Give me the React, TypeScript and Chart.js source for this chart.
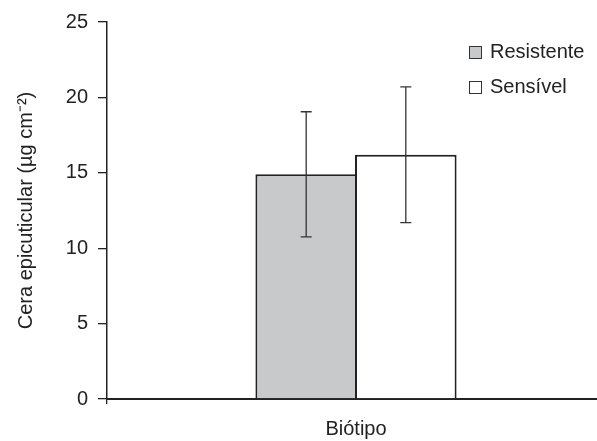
import React, { useEffect, useRef } from "react";
import { Chart, registerables } from "chart.js";

Chart.register(...registerables);

const categories = ["Biótipo"];
const seriesNames = ["Resistente", "Sensível"];
const resistenteValues = [14.9];
const sensivelValues = [16.2];
const resistenteErrors = [4.15];
const sensivelErrors = [4.5];
const yTickValues = [0, 5, 10, 15, 20, 25];
const seriesFill = ["#c8c9cb", "#ffffff"];

const FONT = "'Liberation Sans', Arial, Helvetica, sans-serif";
const INK = "#222222";

const errorBarPlugin = {
  id: "errorBars",
  afterDatasetsDraw(chart: any) {
    const ctx = chart.ctx;
    const yScale = chart.scales.y;
    const errs = [resistenteErrors, sensivelErrors];
    chart.data.datasets.forEach((ds: any, i: number) => {
      const meta = chart.getDatasetMeta(i);
      meta.data.forEach((el: any, j: number) => {
        const v = ds.data[j];
        const e = errs[i][j];
        const x = el.x;
        const yT = yScale.getPixelForValue(v + e);
        const yB = yScale.getPixelForValue(v - e);
        ctx.save();
        ctx.strokeStyle = "#333333";
        ctx.lineWidth = 1.3;
        ctx.beginPath();
        ctx.moveTo(x, yT);
        ctx.lineTo(x, yB);
        ctx.moveTo(x - 5.5, yT);
        ctx.lineTo(x + 5.5, yT);
        ctx.moveTo(x - 5.5, yB);
        ctx.lineTo(x + 5.5, yB);
        ctx.stroke();
        ctx.restore();
      });
    });
  },
};

export default function App() {
  const canvasRef = useRef<HTMLCanvasElement | null>(null);

  useEffect(() => {
    const canvas = canvasRef.current;
    if (!canvas) return;
    const chart = new Chart(canvas, {
      type: "bar",
      data: {
        labels: categories,
        datasets: [
          {
            label: seriesNames[0],
            data: resistenteValues,
            backgroundColor: seriesFill[0],
            borderColor: INK,
            borderWidth: 2,
            barPercentage: 1.02,
            categoryPercentage: 0.4,
          },
          {
            label: seriesNames[1],
            data: sensivelValues,
            backgroundColor: seriesFill[1],
            borderColor: INK,
            borderWidth: 2,
            barPercentage: 1.02,
            categoryPercentage: 0.4,
          },
        ],
      },
      options: {
        responsive: false,
        animation: false,
        devicePixelRatio: 1,
        layout: { padding: { top: 21, right: 15, bottom: 0, left: 0 } },
        plugins: {
          legend: { display: false },
          tooltip: { enabled: false },
        },
        scales: {
          x: {
            grid: {
              display: true,
              drawOnChartArea: false,
              drawTicks: true,
              tickLength: 5,
              color: INK,
              lineWidth: 1.3,
              offset: true,
            },
            border: { display: true, color: INK, width: 2 },
            ticks: { display: false },
            title: {
              display: true,
              text: categories[0],
              color: INK,
              font: { family: FONT, size: 20 },
              padding: { top: 0, bottom: 0 },
            },
            afterFit(scale: any) {
              scale.height = 42;
            },
          },
          y: {
            min: yTickValues[0],
            max: yTickValues[yTickValues.length - 1],
            afterBuildTicks(scale: any) {
              scale.ticks = yTickValues.map((v) => ({ value: v }));
            },
            grid: {
              display: true,
              drawOnChartArea: false,
              drawTicks: true,
              tickLength: 9,
              color: INK,
              lineWidth: 1.3,
            },
            border: { display: true, color: INK, width: 1.5 },
            ticks: {
              color: INK,
              padding: 10,
              font: { family: FONT, size: 20 },
            },
            title: {
              display: true,
              text: "Cera epicuticular (µg cm⁻²)",
              color: INK,
              font: { family: FONT, size: 20 },
              padding: { top: 14, bottom: 0 },
            },
            afterFit(scale: any) {
              scale.width = 107;
            },
          },
        },
      },
      plugins: [errorBarPlugin],
    });
    return () => chart.destroy();
  }, []);

  const legendItem = (label: string, fill: string, top: number) => (
    <div
      style={{
        position: "absolute",
        left: 469,
        top,
        display: "flex",
        alignItems: "center",
        fontFamily: FONT,
        fontSize: 20,
        color: INK,
        lineHeight: "20px",
        whiteSpace: "nowrap",
      }}
    >
      <span
        style={{
          display: "inline-block",
          width: 11,
          height: 11,
          border: "1.5px solid #333",
          background: fill,
          marginRight: 8,
          position: "relative",
          top: 1,
        }}
      />
      <span>{label}</span>
    </div>
  );

  return (
    <div
      style={{
        position: "fixed",
        left: 0,
        top: 0,
        width: 597,
        height: 441,
        overflow: "hidden",
        background: "#ffffff",
      }}
    >
      <canvas
        ref={canvasRef}
        width={620}
        height={441}
        style={{ display: "block", width: 620, height: 441 }}
      />
      {legendItem(seriesNames[0], seriesFill[0], 41)}
      {legendItem(seriesNames[1], seriesFill[1], 76)}
    </div>
  );
}
